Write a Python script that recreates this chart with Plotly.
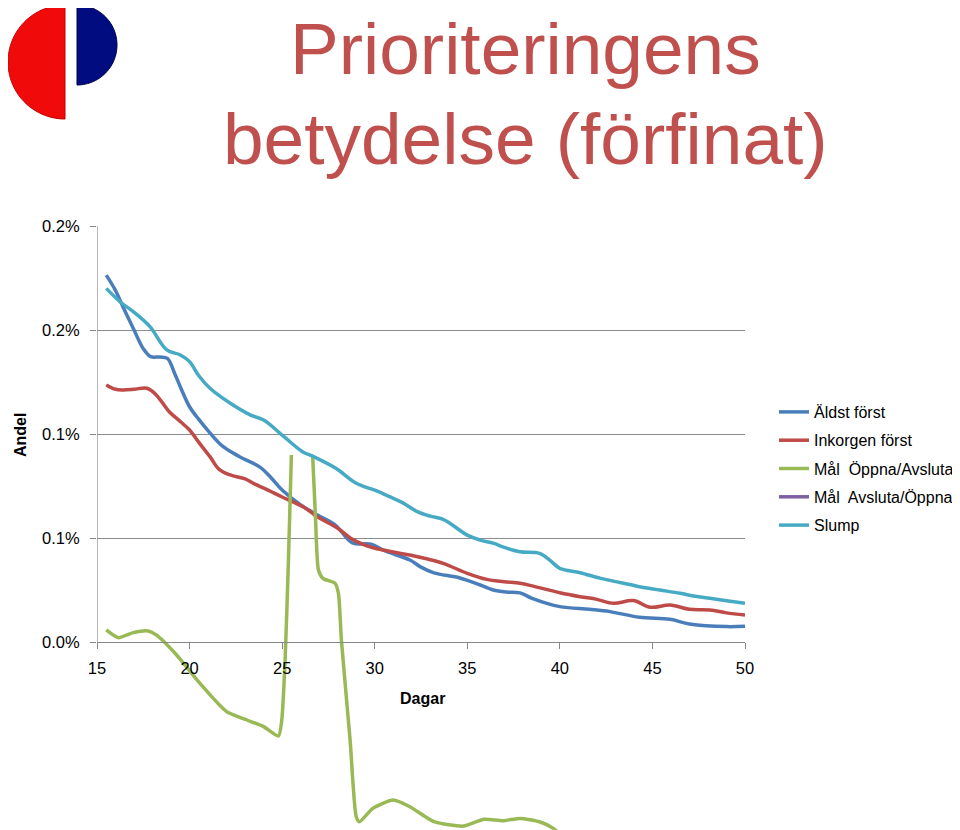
import numpy as np
import plotly.graph_objects as go

# ---------------- data (values in units of 0.001, i.e. 0.1 %) ----------------
aldst_x = [15.5, 16.0, 16.4, 17.0, 17.5, 17.9, 18.4, 18.8, 19.2, 19.5, 20.0, 20.5, 21.1, 21.8, 22.7,
           23.8, 24.4, 25.0, 26.0, 27.0, 27.9, 28.8, 29.8, 30.5, 31.9, 32.5, 33.2, 34.6, 35.7, 36.4,
           37.1, 37.85, 38.5, 40.0, 41.6, 42.7, 44.3, 45.95, 47.0, 49.0, 50.0]
aldst_y = [1.764, 1.69, 1.612, 1.50, 1.41, 1.372, 1.37, 1.364, 1.29, 1.227, 1.131, 1.07, 1.005, 0.94, 0.891,
           0.841, 0.79, 0.731, 0.659, 0.606, 0.56, 0.476, 0.47, 0.44, 0.394, 0.36, 0.332, 0.308, 0.274, 0.25,
           0.24, 0.236, 0.21, 0.17, 0.157, 0.146, 0.119, 0.109, 0.087, 0.074, 0.076]

inkorg_x = [15.5, 16.0, 16.4, 17.0, 17.7, 18.2, 18.9, 19.5, 20.0, 20.5, 21.1, 21.6, 22.2, 23.0, 23.5,
            24.1, 25.0, 26.2, 26.9, 28.0, 28.7, 29.5, 30.45, 31.9, 32.8, 33.7, 35.0, 36.05, 37.0, 37.85,
            38.5, 40.0, 41.1, 42.0, 42.9, 43.96, 44.9, 45.95, 47.0, 48.1, 49.0, 50.0]
inkorg_y = [1.236, 1.215, 1.212, 1.215, 1.22, 1.188, 1.107, 1.06, 1.019, 0.96, 0.891, 0.83, 0.803, 0.784, 0.76,
            0.736, 0.697, 0.647, 0.602, 0.547, 0.499, 0.465, 0.442, 0.418, 0.40, 0.378, 0.33, 0.301, 0.29, 0.282,
            0.27, 0.237, 0.218, 0.205, 0.186, 0.199, 0.167, 0.178, 0.157, 0.154, 0.14, 0.13]

oppna_x = [15.5, 16.15, 16.96, 17.77, 18.2, 19.3, 20.56, 22.0, 23.1, 24.0, 24.8, 24.98, 25.16, 25.34, 25.5,
           None,
           26.65, 26.8, 26.96, 27.2, 27.86, 28.04, 28.2, 28.67, 29.0, 29.17, 29.9, 31.0, 31.9, 33.2, 34.8,
           35.9, 36.95, 37.85, 38.9, 39.65, 40.3]
oppna_y = [0.058, 0.021, 0.045, 0.053, 0.034, -0.0625, -0.199, -0.335, -0.375, -0.407, -0.452, -0.375, -0.087, 0.394, 0.899,
           None,
           0.891, 0.60, 0.346, 0.306, 0.282, 0.234, 0.01, -0.471, -0.84, -0.864, -0.80, -0.76, -0.792, -0.864, -0.885,
           -0.852, -0.859, -0.848, -0.864, -0.896, -0.95]

avsluta_x = [None]
avsluta_y = [None]

slump_x = [15.5, 16.24, 16.96, 17.86, 18.77, 19.5, 20.0, 20.5, 21.1, 22.2, 23.3, 24.0, 25.1, 26.1, 26.7,
           27.9, 29.0, 30.0, 30.8, 31.5, 32.3, 33.0, 33.7, 35.0, 35.7, 36.4, 37.0, 37.85, 38.9, 39.5,
           40.0, 41.1, 42.2, 43.3, 44.3, 45.4, 46.5, 47.3, 48.1, 49.0, 50.0]
slump_y = [1.70, 1.636, 1.588, 1.516, 1.404, 1.38, 1.348, 1.28, 1.22, 1.148, 1.091, 1.067, 0.987, 0.915, 0.891,
           0.835, 0.763, 0.73, 0.699, 0.67, 0.627, 0.605, 0.59, 0.514, 0.49, 0.475, 0.455, 0.434, 0.426, 0.39,
           0.354, 0.333, 0.306, 0.285, 0.266, 0.25, 0.234, 0.22, 0.21, 0.198, 0.186]

series_names = ["Äldst först", "Inkorgen först", "Mål\u00a0 Öppna/Avsluta", "Mål\u00a0 Avsluta/Öppna", "Slump"]
series_colors = ["#4A7EBB", "#BE4B48", "#98B954", "#7D60A0", "#46AAC5"]

y_tickvals = [0, 0.0005, 0.001, 0.0015, 0.002]
y_ticktext = ["0.0%", "0.1%", "0.1%", "0.2%", "0.2%"]
x_tickvals = [15, 20, 25, 30, 35, 40, 45, 50]

def scale(v):
    return [None if a is None else a / 1000.0 for a in v]

# ---------------- layout geometry ----------------
# page body has an 8px margin, so the figure is drawn shifted by (8, 8) on screen
OFF = 8
W, H = 960, 830
ML = 97 - OFF
MR = W - (745 - OFF)
MT = 226 - OFF
MB = 0
PW, PH = W - ML - MR, H - MT - MB
YMAX = 0.002
px_per_unit = 208000.0
YMIN = YMAX - PH / px_per_unit
xpos = (0 - YMIN) / (YMAX - YMIN)

def paper_x(px):  # px = screen pixel
    return (px - OFF - ML) / PW

def paper_y(py):
    return (H - MB - (py - OFF)) / PH

fig = go.Figure()
xs = [aldst_x, inkorg_x, oppna_x, avsluta_x, slump_x]
ys = [aldst_y, inkorg_y, oppna_y, avsluta_y, slump_y]
for i, (x, y) in enumerate(zip(xs, ys)):
    fig.add_trace(go.Scatter(
        x=x, y=scale(y), mode="lines", name=series_names[i], legendgroup=f"g{i}",
        line=dict(color=series_colors[i], width=3.5, shape="spline",
                  smoothing=0.6 if i == 2 else 1.0),
        connectgaps=False,
    ))

def half_disc(cx, cy, r, left=True, n=60):
    if left:
        ang = np.linspace(np.pi / 2, 3 * np.pi / 2, n)
    else:
        ang = np.linspace(-np.pi / 2, np.pi / 2, n)
    pts = [(cx + r * np.cos(a), cy - r * np.sin(a)) for a in ang]
    return "M " + " L ".join(f"{paper_x(px):.5f},{paper_y(py):.5f}" for px, py in pts) + " Z"

shapes = [
    dict(type="path", xref="paper", yref="paper", path=half_disc(65, 62, 57, True),
         fillcolor="#F00A0A", line=dict(color="#C00000", width=1)),
    dict(type="path", xref="paper", yref="paper", path=half_disc(77, 45, 40, False),
         fillcolor="#000C80", line=dict(color="#00004A", width=1)),
    dict(type="line", xref="x", yref="y", x0=15, x1=15, y0=0, y1=YMAX,
         line=dict(color="#868686", width=1.2)),
]

title_font = dict(family="Liberation Sans, Arial", size=73, color="#C0504D")
annotations = [
    dict(text="Prioriteringens", x=paper_x(525), y=paper_y(49), xref="paper", yref="paper",
         showarrow=False, xanchor="center", yanchor="middle", font=title_font),
    dict(text="betydelse (förfinat)", x=paper_x(525), y=paper_y(138), xref="paper", yref="paper",
         showarrow=False, xanchor="center", yanchor="middle", font=title_font),
    dict(text="<b>Dagar</b>", x=paper_x(422), y=paper_y(698), xref="paper", yref="paper",
         showarrow=False, xanchor="center", yanchor="middle",
         font=dict(family="Liberation Sans, Arial", size=16, color="#000000")),
    dict(text="<b>Andel</b>", x=paper_x(20), y=paper_y(435), xref="paper", yref="paper",
         showarrow=False, xanchor="center", yanchor="middle", textangle=-90,
         font=dict(family="Liberation Sans, Arial", size=16, color="#000000")),
]

fig.update_layout(
    width=W, height=H,
    margin=dict(l=ML, r=MR, t=MT, b=MB, pad=0),
    paper_bgcolor="white", plot_bgcolor="white",
    font=dict(family="Liberation Sans, Arial", size=16, color="#1a1a1a"),
    shapes=shapes, annotations=annotations,
    showlegend=True,
    legend=dict(x=paper_x(774), y=paper_y(395), xanchor="left", yanchor="top",
                font=dict(size=16, color="#000000"), bgcolor="rgba(0,0,0,0)",
                tracegroupgap=4.5),
    xaxis=dict(range=[15, 50], tickvals=x_tickvals, showgrid=False, zeroline=False,
               showline=True, linecolor="#868686", linewidth=1.2,
               ticks="outside", ticklen=6, tickcolor="#868686",
               anchor="free", position=xpos, automargin=False,
               ticklabelstandoff=5,
               tickfont=dict(size=16.5, color="#000000")),
    yaxis=dict(range=[YMIN, YMAX], tickvals=y_tickvals, ticktext=y_ticktext,
               showgrid=True, gridcolor="#8C8C8C", gridwidth=1.2, zeroline=False,
               showline=False, ticks="outside", ticklen=6, tickcolor="#868686",
               ticklabelstandoff=7, automargin=False,
               tickfont=dict(size=16.5, color="#000000")),
)

fig.write_html("out.html")
